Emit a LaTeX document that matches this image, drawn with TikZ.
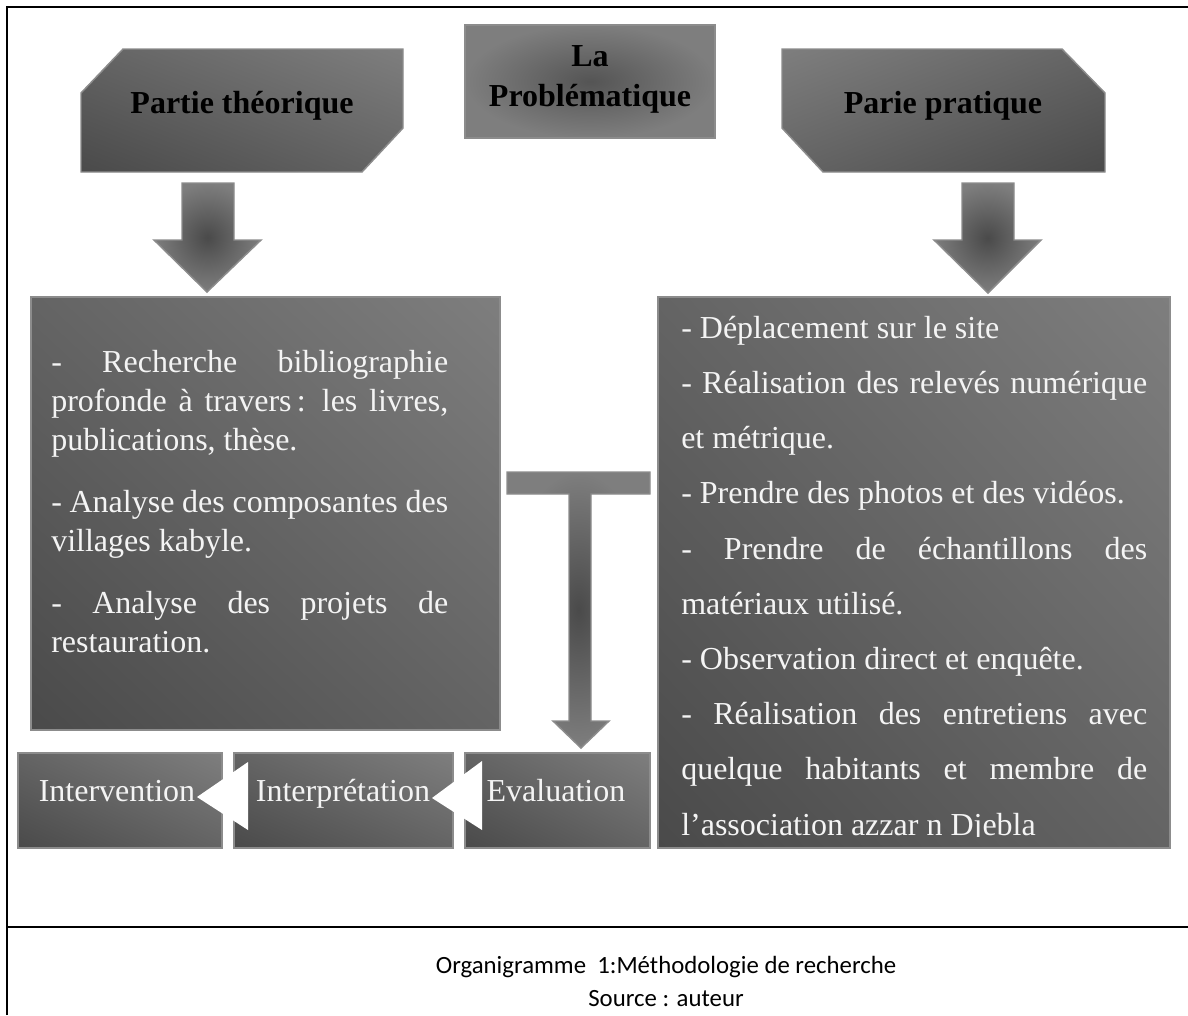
\documentclass[tikz,border=0pt]{standalone}
\usepackage{fontspec}
\setmainfont{Liberation Serif}
\newfontfamily\legendefont{Carlito}
\usetikzlibrary{shadings}

\definecolor{gclair}{HTML}{7E7E7E}
\definecolor{gmoyen}{HTML}{646464}
\definecolor{gsombre}{HTML}{4A4A4A}
\definecolor{gbord}{HTML}{8C8C8C}
\definecolor{txtblanc}{HTML}{F4F4F4}

\newcommand\jl[2][349.5pt]{\makebox[#1][s]{\spaceskip=0pt\relax #2}}

\begin{document}
\begin{tikzpicture}[x=0.75pt,y=-0.75pt,
  boite/.style={draw=gbord,line width=1.1pt,upper right=gclair,lower left=gsombre,upper left=gmoyen,lower right=gmoyen},
  boiteinv/.style={draw=gbord,line width=1.1pt,upper left=gclair,lower right=gsombre,upper right=gmoyen,lower left=gmoyen},
  fleche/.style={draw=gbord,line width=1.1pt,inner color=gsombre,outer color=gclair},
  titre/.style={font=\fontsize{24}{30}\selectfont\bfseries,inner sep=0pt,anchor=base},
  etape/.style={text=txtblanc,font=\fontsize{24}{30}\selectfont,inner sep=0pt,anchor=base},
  liste/.style={text=txtblanc,align=left,inner sep=0pt,anchor=north west},
  cadre/.style={line width=1.5pt}]
  \useasboundingbox (0,0) rectangle (1188,1015);
  % Cadre
  \draw[cadre] (7,1015) -- (7,7) -- (1188,7);
  \draw[cadre] (7,927) -- (1188,927);
  % Titres
  \shadedraw[boite] (123,49) -- (403,49) -- (403,128) -- (362,172) -- (81,172) -- (81,93) -- cycle;
  \shadedraw[boiteinv] (782,49) -- (1062,49) -- (1105,93) -- (1105,172) -- (823,172) -- (782,128) -- cycle;
  \shadedraw[draw=gbord,line width=1.1pt,inner color=gsombre!80!gclair,outer color=gclair] (465,25) rectangle (715,138);
  \node[titre] (theo) at (242,113) {Partie théorique};
  \node[titre] (prat) at (943,113) {Parie pratique};
  \node[titre] (probla) at (590,66) {La};
  \node[titre] (problem) at (590,106) {Problématique};
  % Fleches
  \shadedraw[fleche] (182,183) -- (234,183) -- (234,240) -- (261,240) -- (207,292) -- (154,240) -- (182,240) -- cycle;
  \shadedraw[fleche] (962,183) -- (1014,183) -- (1014,240) -- (1041,240) -- (988,293) -- (934,240) -- (962,240) -- cycle;
  \shadedraw[fleche] (507,472) -- (650,472) -- (650,494) -- (591,494) -- (591,721) -- (609,721) -- (581,748)
    -- (553,721) -- (569,721) -- (569,494) -- (507,494) -- cycle;
  % Blocs de texte
  \shadedraw[boite] (31,297) rectangle (500,730);
  \shadedraw[boite] (658,297) rectangle (1170,848);
  \node[liste,text width=297.75pt,font=\fontsize{24}{29.25}\selectfont] (theotxt) at (51,340) {%
    \noindent\spaceskip=0pt\relax\rule{0pt}{24pt}\jl[297.75pt]{- Recherche bibliographie}\\
    \jl[297.75pt]{profonde à travers\,: les livres,}\\
    publications, thèse.\\[17.25pt]
    \jl[297.75pt]{- Analyse des composantes des}\\
    villages kabyle.\\[17.25pt]
    \jl[297.75pt]{- Analyse des projets de}\\
    restauration.};
  \begin{scope}
    \clip (658,297) rectangle (1170,836);
    \node[liste,text width=349.5pt,font=\fontsize{24}{41.4}\selectfont] (pratxt) at (681,306) {%
      \noindent\spaceskip=0pt\relax\rule{0pt}{24pt}- Déplacement sur le site\\
      \jl{- Réalisation des relevés numérique}\\
      et métrique.\\
      - Prendre des photos et des vidéos.\\
      \jl{- Prendre de échantillons des}\\
      matériaux utilisé.\\
      - Observation direct et enquête.\\
      \jl{- Réalisation des entretiens avec}\\
      \jl{quelque habitants et membre de}\\
      l’association azzar n Djebla};
  \end{scope}
  % Etapes
  \shadedraw[boite] (18,753) rectangle (222,848);
  \shadedraw[boite] (234,753) rectangle (453,848);
  \shadedraw[boite] (465,753) rectangle (650,848);
  \fill[white] (197,797) -- (248,762) -- (248,830) -- cycle;
  \fill[white] (432,798) -- (482,761) -- (482,830) -- cycle;
  \node[etape] (interv) at (117,801) {Intervention};
  \node[etape] (interp) at (343,801) {Interprétation};
  \node[etape] (evalu) at (556,801) {Evaluation};
  % Legende
  \node[font=\legendefont\fontsize{18.6}{24}\selectfont,anchor=base] (legende) at (666,973) {Organigramme\ \ 1:Méthodologie de recherche};
  \node[font=\legendefont\fontsize{18.6}{24}\selectfont,anchor=base] (source) at (666,1006) {Source : auteur};
\end{tikzpicture}
\end{document}
